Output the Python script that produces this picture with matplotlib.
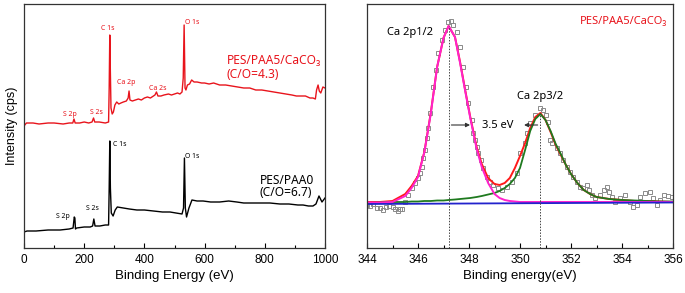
import matplotlib.pyplot as plt
from matplotlib.ticker import MultipleLocator

plt.rcParams['font.family'] = ['Liberation Sans', 'DejaVu Sans']
ANN = ['Noto Sans', 'DejaVu Sans']

# survey spectra (binding energy eV, intensity a.u.)
red_x = [0, 8, 30, 50, 80, 100, 130, 150, 162, 166, 170, 185, 200, 215, 226, 231, 235, 250,
         270, 281, 283, 285, 287, 289, 293, 297, 302, 308, 315, 322, 330, 340, 346, 349, 352,
         360, 370, 380, 390, 400, 410, 420, 430, 435, 440, 445, 455, 465, 480, 490, 500, 510,
         518, 525, 529, 532, 535, 538, 543, 550, 557, 565, 575, 590, 600, 615, 630, 650, 670,
         690, 710, 730, 750, 770, 790, 810, 830, 850, 870, 890, 905, 920, 935, 950, 960, 968,
         972, 977, 981, 986, 993, 1000]
red_y = [122, 125, 125, 124, 125, 125, 124, 125, 125, 129, 125, 125, 126, 125, 126, 130, 126, 126,
         125, 126, 160, 213, 175, 140, 134, 136, 143, 146, 144, 145, 146, 147, 150, 157, 148,
         147, 148, 149, 148, 150, 151, 150, 152, 153, 156, 152, 152, 153, 154, 153, 154, 155,
         154, 156, 170, 223, 160, 158, 163, 164, 168, 166, 166, 165, 165, 164, 165, 163, 163,
         162, 161, 160, 160, 158, 158, 157, 156, 155, 154, 153, 152, 152, 152, 150, 150, 149,
         158, 163, 157, 155, 161, 160]

blk_x = [0, 10, 40, 80, 120, 150, 163, 167, 169, 171, 175, 200, 220, 228, 232, 236, 252, 270,
         281, 283, 285, 287, 290, 296, 303, 310, 330, 350, 375, 400, 430, 460, 485, 505, 525,
         530, 533, 536, 540, 548, 558, 575, 595, 620, 650, 680, 707, 730, 760, 790, 817, 850,
         880, 910, 927, 945, 960, 970, 980, 990, 1000]
blk_y = [16, 17, 17, 18, 18, 19, 20, 31, 30, 19, 20, 21, 21, 22, 29, 22, 22, 23,
         23, 60, 107, 60, 35, 32, 38, 41, 40, 39, 38, 38, 37, 36, 36, 35, 34,
         40, 90, 40, 31, 40, 48, 47, 47, 46, 46, 47, 46, 45, 45, 45, 45, 44,
         44, 43, 43, 42, 42, 44, 52, 46, 50]

# Ca 2p high resolution data (binding energy eV, intensity a.u.)
ca_x = [344.0, 344.12, 344.25, 344.38, 344.5, 344.63, 344.75, 344.88, 345.0, 345.1, 345.2, 345.3,
        345.37, 345.5, 345.6, 345.76, 345.88, 346.0, 346.08, 346.16, 346.2, 346.27, 346.35, 346.4,
        346.47, 346.59, 346.71, 346.78, 346.94, 347.06, 347.18, 347.3, 347.37, 347.53, 347.65,
        347.76, 347.88, 347.96, 348.12, 348.16, 348.24, 348.31, 348.35, 348.47, 348.55, 348.7,
        348.82, 348.94, 349.14, 349.29, 349.49, 349.69, 349.88, 350.0, 350.2, 350.27, 350.39,
        350.59, 350.78, 350.9, 351.0, 351.1, 351.18, 351.25, 351.45, 351.57, 351.69, 351.84,
        351.96, 352.08, 352.24, 352.35, 352.47, 352.63, 352.7, 352.82, 352.94, 353.14, 353.29,
        353.41, 353.49, 353.61, 353.73, 353.92, 354.12, 354.31, 354.43, 354.59, 354.7, 354.9,
        355.1, 355.2, 355.37, 355.5, 355.65, 355.8, 355.96]
ca_y = [43, 42, 44, 40, 40, 38, 41, 42, 41, 39, 37, 39,
        39, 46, 53, 60, 65, 70, 75, 81, 90, 98, 110, 120,
        135, 161, 178, 195, 208, 218, 226, 227, 223, 216, 201,
        181, 161, 145, 128, 115, 108, 101, 95, 88, 80, 71,
        66, 63, 60, 58, 61, 66, 75, 95, 105, 115, 125,
        133, 140, 138, 133, 126, 108, 105, 100, 95, 88, 81,
        76, 71, 66, 61, 60, 63, 58, 53, 50, 53, 58,
        61, 56, 51, 46, 50, 53, 46, 41, 43, 51, 55,
        56, 50, 43, 48, 53, 52, 51]

# fitted components
fit_x = [344.0, 344.5, 345.0, 345.5, 345.75, 346.0, 346.25, 346.5, 346.75, 347.0, 347.2, 347.45,
         347.65, 347.85, 348.05, 348.3, 348.5, 348.75, 349.0, 349.2, 349.4, 349.6, 349.8, 350.0,
         350.2, 350.4, 350.6, 350.8, 351.0, 351.2, 351.4, 351.6, 351.8, 352.0, 352.25, 352.5,
         352.75, 353.0, 353.5, 354.0, 354.5, 355.0, 355.5, 356.0]
env_y = [46, 46, 47, 54, 62, 72, 96, 135, 181, 210, 222, 211,
         186, 158, 131, 101, 84, 70, 64, 63, 65, 70, 80, 92,
         105, 120, 131, 135, 128, 116, 103, 93, 83, 74, 65, 58,
         54, 51, 49, 48, 47, 47, 46.5, 46]
p12_y = [45.5, 45.5, 46, 52, 60, 71, 96, 134, 181, 210, 222, 211,
         185, 157, 130, 99, 81, 65, 54, 50, 48, 47, 46.5, 46,
         46, 46, 46, 46, 46, 46, 46, 46, 46, 46, 46, 46,
         46, 46, 46, 46, 46, 46, 46, 46]
p32_y = [45, 45.5, 46, 46, 46.5, 46.5, 47, 47, 47.5, 47.5, 48, 48.5,
         49, 49.5, 50, 51, 52, 53.5, 55, 57, 60, 64, 70, 80,
         98, 117, 129, 134, 128, 117, 104, 94, 83, 74, 65, 58,
         54, 51, 49, 48, 47.5, 47, 46.5, 46.5]
bg_x = [344, 356]
bg_y = [44, 45.5]

peak_pos = [347.2, 350.8]
peak_top = [222, 135]

fig = plt.figure(figsize=(6.85, 2.93), dpi=100)
ax1 = fig.add_axes([24 / 685, 45 / 293, 301 / 685, 244 / 293])
ax2 = fig.add_axes([367 / 685, 45 / 293, 306 / 685, 244 / 293])

red = '#e8141c'
ax1.plot(red_x, red_y, color=red, lw=1.0)
ax1.plot(blk_x, blk_y, color='black', lw=1.0)
ax1.set_xlim(0, 1000)
ax1.set_ylim(0, 244)
ax1.set_yticks([])
ax1.xaxis.set_major_locator(MultipleLocator(200))
ax1.xaxis.set_minor_locator(MultipleLocator(100))
ax1.set_xlabel('Binding Energy (eV)', fontsize=9.5, labelpad=3)
ax1.set_ylabel('Intensity (cps)', fontsize=9, labelpad=4)

small = dict(fontsize=5, family=ANN, ha='center', va='center')
for txt, x, y in [('C 1s', 279, 220), ('O 1s', 558, 225), ('Ca 2p', 339, 165),
                  ('Ca 2s', 445, 160), ('S 2p', 153, 133), ('S 2s', 239, 136)]:
    ax1.text(x, y, txt, color=red, **small)
for txt, x, y in [('C 1s', 318, 104), ('O 1s', 560, 92), ('S 2s', 229, 39), ('S 2p', 130, 31)]:
    ax1.text(x, y, txt, color='black', **small)

ax1.text(674, 188, 'PES/PAA5/CaCO₃', color=red, fontsize=8.6, family=ANN, va='center')
ax1.text(674, 174, '(C/O=4.3)', color=red, fontsize=8.6, family=ANN, va='center')
ax1.text(784, 68, 'PES/PAA0', color='black', fontsize=8.6, family=ANN, va='center')
ax1.text(784, 56, '(C/O=6.7)', color='black', fontsize=8.6, family=ANN, va='center')

ax2.plot(ca_x, ca_y, 's', ms=3.3, mfc='none', mec='#8a8a8a', mew=0.7)
ax2.plot(fit_x, env_y, color='#ff1a1a', lw=1.4)
ax2.plot(fit_x, p32_y, color='#1f7a1f', lw=1.3)
ax2.plot(fit_x, p12_y, color='#ff22cc', lw=1.4)
ax2.plot(bg_x, bg_y, color='#2222cc', lw=1.3)
ax2.vlines(peak_pos, 0, peak_top, colors='#444444', linestyles=(0, (1.5, 1.5)), lw=0.7)

ax2.annotate('', xy=(348.15, 123), xytext=(347.2, 123),
             arrowprops=dict(arrowstyle='-|>', color='#333333', lw=0.8, mutation_scale=6))
ax2.annotate('', xy=(350.05, 123), xytext=(350.8, 123),
             arrowprops=dict(arrowstyle='-|>', color='#333333', lw=0.8, mutation_scale=6))
ax2.text(349.12, 123, '3.5 eV', fontsize=8, family=ANN, ha='center', va='center')
ax2.text(345.7, 216, 'Ca 2p1/2', fontsize=8, family=ANN, ha='center', va='center')
ax2.text(350.8, 152, 'Ca 2p3/2', fontsize=8, family=ANN, ha='center', va='center')
ax2.text(355.76, 226, 'PES/PAA5/CaCO₃', color=red, fontsize=8, family=ANN, ha='right', va='center')

ax2.set_xlim(344, 356)
ax2.set_ylim(0, 244)
ax2.set_yticks([])
ax2.xaxis.set_major_locator(MultipleLocator(2))
ax2.xaxis.set_minor_locator(MultipleLocator(1))
ax2.set_xlabel('Binding energy(eV)', fontsize=9.5, labelpad=3)

for ax in (ax1, ax2):
    ax.tick_params(axis='x', which='major', direction='in', length=3.5, width=0.8, labelsize=8.5, pad=4)
    ax.tick_params(axis='x', which='minor', direction='in', length=2, width=0.8)
    for s in ax.spines.values():
        s.set_color('#333333')
        s.set_linewidth(0.9)

fig.savefig('out.png', dpi=100)
